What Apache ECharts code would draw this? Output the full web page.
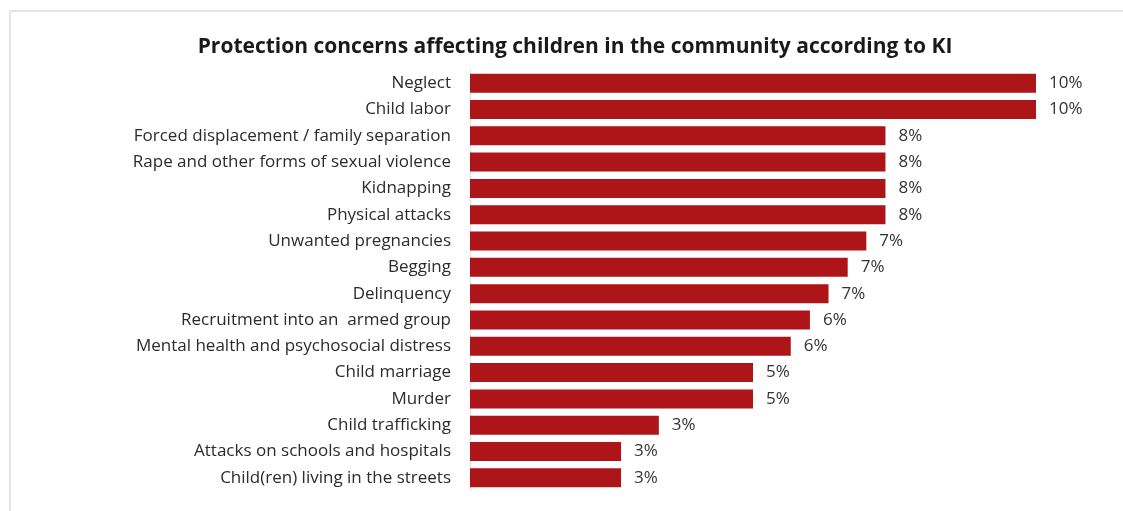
<!DOCTYPE html>
<html>
<head>
<meta charset="utf-8">
<script src="https://cdn.jsdelivr.net/npm/echarts@6/dist/echarts.min.js"></script>
<style>
  html, body { margin: 0; padding: 0; background: #fff; }
  #frame { position: absolute; left: 9px; top: 10px; width: 1114px; height: 501px;
           border-top: 2px solid #e4e4e4; border-left: 2px solid #e4e4e4; box-sizing: border-box; }
  #chart { position: absolute; left: 0; top: 0; width: 1123px; height: 511px; }
</style>
</head>
<body>
<div id="frame"></div>
<div id="chart"></div>
<script>
const titleText = 'Protection concerns affecting children in the community according to KI';
const categories = [
  'Neglect',
  'Child labor',
  'Forced displacement / family separation',
  'Rape and other forms of sexual violence',
  'Kidnapping',
  'Physical attacks',
  'Unwanted pregnancies',
  'Begging',
  'Delinquency',
  'Recruitment into an  armed group',
  'Mental health and psychosocial distress',
  'Child marriage',
  'Murder',
  'Child trafficking',
  'Attacks on schools and hospitals',
  'Child(ren) living in the streets'
];
// estimated shares (%); labels show rounded values
const values = [10.34, 10.34, 7.59, 7.59, 7.59, 7.59, 7.24, 6.90, 6.55, 6.21, 5.86, 5.17, 5.17, 3.45, 2.76, 2.76];

const chart = echarts.init(document.getElementById('chart'));
chart.setOption({
  animation: false,
  title: {
    text: titleText,
    left: 570, top: 32, textAlign: 'center',
    textStyle: { fontFamily: 'Open Sans', fontSize: 21, fontWeight: 'bold', color: '#1a1a1a' }
  },
  grid: { left: 470, right: 87, top: 70, bottom: 20, containLabel: false },
  xAxis: {
    type: 'value', min: 0, max: 'dataMax',
    show: false
  },
  yAxis: {
    type: 'category', data: categories, inverse: true,
    axisLine: { show: true, lineStyle: { color: '#e0e0e0', width: 1 } },
    axisTick: { show: false },
    axisLabel: { margin: 19, fontFamily: 'Open Sans', fontSize: 17, color: '#2b2b2b' }
  },
  series: [{
    type: 'bar', data: values, barCategoryGap: '28%',
    itemStyle: { color: '#AE1519' },
    label: {
      show: true, position: 'right', distance: 13,
      fontFamily: 'Open Sans', fontSize: 17, color: '#333',
      formatter: p => Math.round(p.value) + '%'
    }
  }]
});
</script>
</body>
</html>
